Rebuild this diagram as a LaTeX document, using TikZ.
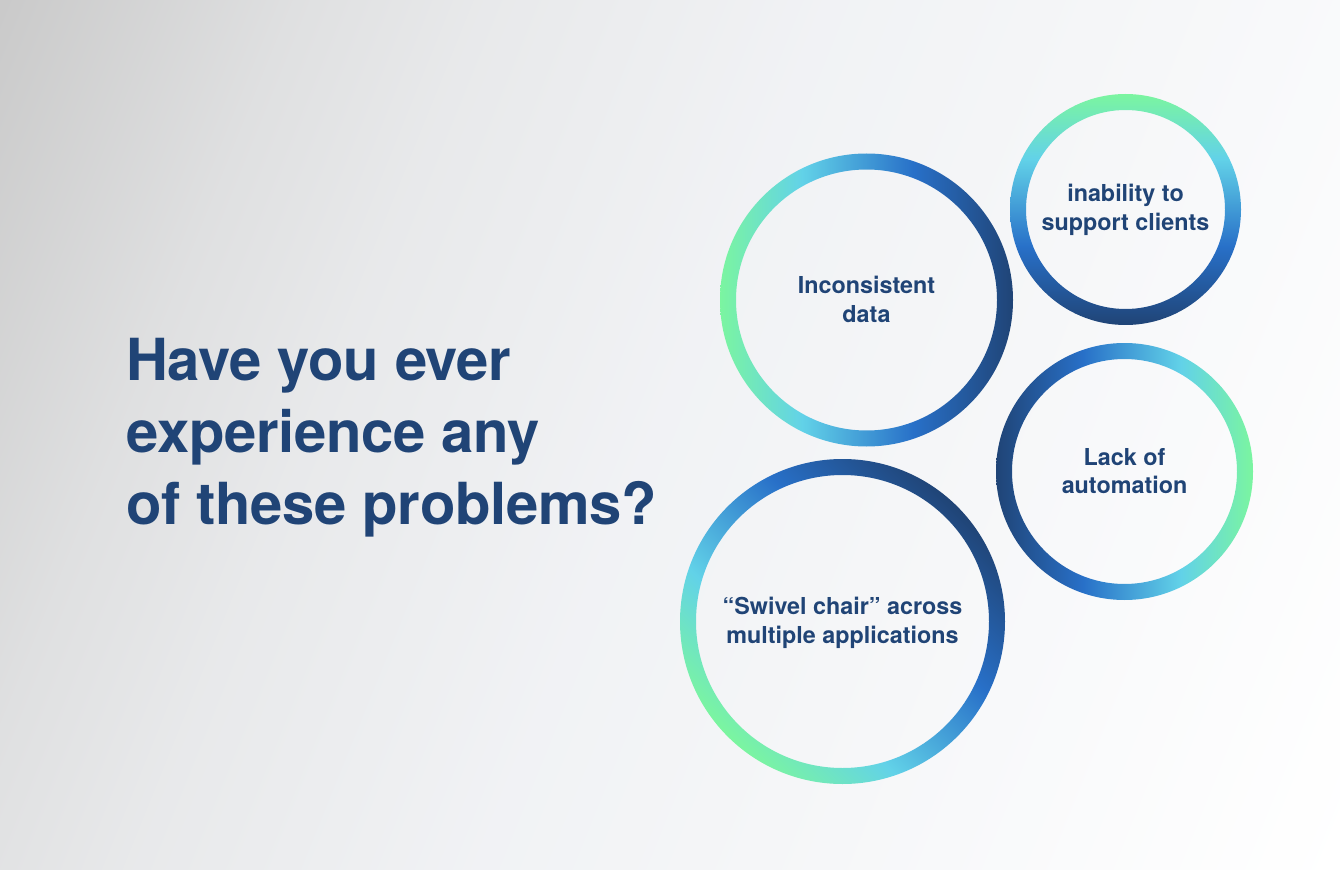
\documentclass[tikz,border=0pt]{standalone}
\usepackage{fontspec}
\setmainfont{TeX Gyre Heros}[BoldFont={TeX Gyre Heros Bold}]
\newfontfamily\headfont{TeX Gyre Heros Bold}[LetterSpace=-0.5]
\definecolor{ink}{HTML}{204476}
\definecolor{rgreen}{HTML}{7BF5A0}
\definecolor{rcyan}{HTML}{62D2E8}
\definecolor{rblue}{HTML}{2870C8}
\definecolor{rnavy}{HTML}{204476}
\pgfdeclarehorizontalshading{ringgrad}{100bp}{color(0bp)=(rgreen); color(25bp)=(rgreen); color(39bp)=(rcyan); color(58bp)=(rblue); color(75bp)=(rnavy); color(100bp)=(rnavy)}
\pgfdeclarehorizontalshading{bggrad}{1800bp}{rgb(0bp)=(.79,.79,.79); rgb(312bp)=(.79,.79,.79); rgb(520bp)=(.875,.878,.882); rgb(650bp)=(.91,.914,.92); rgb(890bp)=(.945,.95,.96); rgb(1020bp)=(.955,.96,.968); rgb(1232bp)=(.975,.978,.983); rgb(1488bp)=(1,1,1); rgb(1800bp)=(1,1,1)}
\tikzset{x=0.75pt,y=-0.75pt,
 head/.style={anchor=base west,inner sep=0,text=ink,font=\headfont\fontsize{43.5}{54}\selectfont},
 lab/.style={anchor=center,inner sep=0,text=ink,align=center,font=\fontsize{17.5}{21.6}\bfseries\selectfont}}
\newcommand{\ringat}[4]{\shade[shading=ringgrad,shading angle=#4,even odd rule] (#1,#2) circle[radius=#3] (#1,#2) circle[radius=#3-16];}
\begin{document}
\begin{tikzpicture}
\useasboundingbox (0,0) rectangle (1340,870);
\begin{scope}
\clip (0,0) rectangle (1340,870);
\node[rotate=-22,inner sep=0] (bg) at (670,435) {\pgfuseshading{bggrad}};
\end{scope}
\ringat{866.5}{300}{146.5}{0}
\ringat{1125.5}{209.5}{115.5}{-90}
\ringat{1124.5}{471.5}{128.5}{180}
\ringat{842.5}{621.5}{162.5}{45}
\node[head] (h1) at (126,380) {Have you ever};
\node[head] (h2) at (126,452) {experience any};
\node[head] (h3) at (126,524) {of these problems?};
\node[lab] (a) at (866.5,299.5) {Inconsistent\\data};
\node[lab] (b) at (1125.5,210) {inability to\\support clients};
\node[lab] (c) at (1124.5,471) {Lack of\\automation};
\node[lab] (d) at (842.5,623) {“Swivel chair” across\\multiple applications};
\end{tikzpicture}
\end{document}
